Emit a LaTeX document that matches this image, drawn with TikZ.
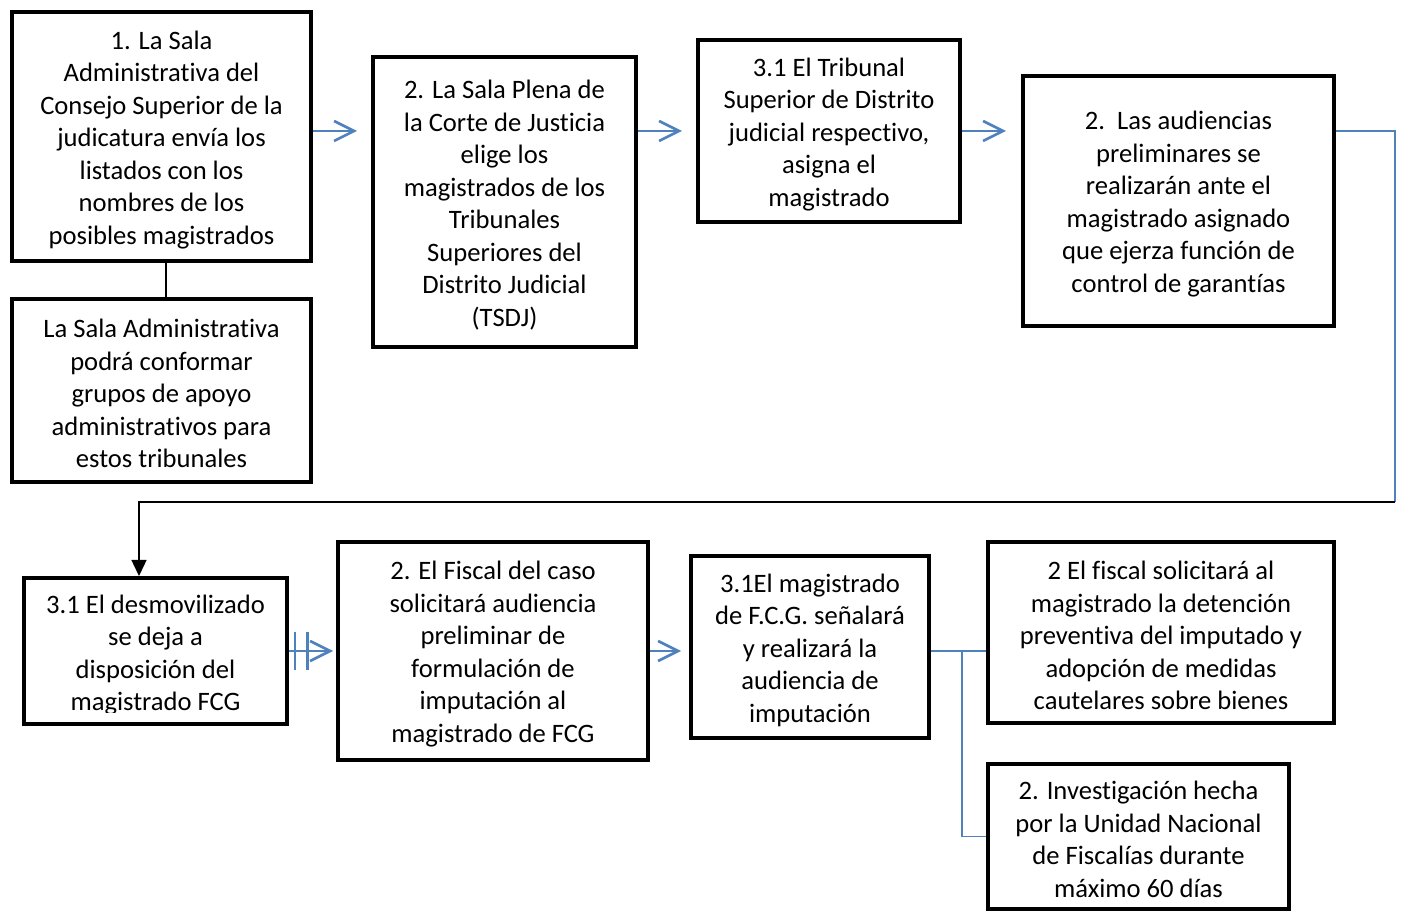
\documentclass[tikz,border=0pt]{standalone}
\usepackage{fontspec}
\setmainfont{Carlito}[Ligatures=NoCommon]
\usetikzlibrary{arrows.meta}
\usetikzlibrary{calc}
\definecolor{azul}{RGB}{79,129,189}
\newcommand{\alto}{\rule{0pt}{12.3pt}}

\begin{document}
\begin{tikzpicture}[x=0.5pt,y=-0.5pt,>=Stealth,
		caja/.style={draw,line width=2pt,align=center,inner sep=0pt,font=\fontsize{13.3}{16.25}\selectfont},
		flecha/.style={azul,line width=1.3pt,-{Straight Barb[length=10pt,width=10pt,line width=1.3pt]}},
		enlace/.style={azul,line width=0.6pt}]
		
		\useasboundingbox (0,0) rectangle (1404,914);
		
		% Upper row
		\node[caja,minimum width=149.5pt,minimum height=124.5pt] (a) at (161.5,136.5) {\alto 1. La Sala\\Administrativa del\\Consejo Superior de la\\judicatura envía los\\listados con los\\nombres de los\\posibles magistrados};
		\node[caja,minimum width=149.5pt,minimum height=91.5pt] (b) at (161.5,390.5) {\alto La Sala Administrativa\\podrá conformar\\grupos de apoyo\\administrativos para\\estos tribunales};
		\node[caja,minimum width=131.5pt,minimum height=145pt] (c) at (504.5,202) {\alto 2. La Sala Plena de\\la Corte de Justicia\\elige los\\magistrados de los\\Tribunales\\Superiores del\\Distrito Judicial\\(TSDJ)};
		\node[caja,minimum width=131pt,minimum height=91pt] (d) at (829,131) {\alto 3.1 El Tribunal\\Superior de Distrito\\judicial respectivo,\\asigna el\\magistrado};
		\node[caja,minimum width=155.5pt,minimum height=125pt] (e) at (1178.5,201) {\alto 2.\ \ Las audiencias\\preliminares se\\realizarán ante el\\magistrado asignado\\que ejerza función de\\control de garantías};
		
		% Lower row
		\begin{scope}
			\clip (22,576) rectangle (289,712);
			\node[caja,draw=none,minimum width=131.5pt,minimum height=73pt] (ftexto) at (155.5,652) {\alto 3.1 El desmovilizado\\se deja a\\disposición del\\magistrado FCG};
		\end{scope}
		\node[caja,minimum width=131.5pt,minimum height=73pt] (f) at (155.5,651) {};
		\node[caja,minimum width=155pt,minimum height=109pt] (g) at (493,651) {\alto 2. El Fiscal del caso\\solicitará audiencia\\preliminar de\\formulación de\\imputación al\\magistrado de FCG};
		\node[caja,minimum width=119pt,minimum height=91pt] (h) at (810,647) {\alto 3.1El magistrado\\de F.C.G. señalará\\y realizará la\\audiencia de\\imputación};
		\node[caja,minimum width=173pt,minimum height=90.5pt] (i) at (1161,632.5) {\alto 2 El fiscal solicitará al\\magistrado la detención\\preventiva del imputado y\\adopción de medidas\\cautelares sobre bienes};
		\node[caja,minimum width=150.5pt,minimum height=72.5pt] (j) at (1138.5,836.5) {\alto 2. Investigación hecha\\por la Unidad Nacional\\de Fiscalías durante\\máximo 60 días};
		
		% Connectors, upper row
		\draw[line width=0.8pt] ([xshift=2.25pt]a.south) -- ([xshift=2.25pt]b.north);
		\draw[flecha,shorten >=7pt] (a.east |- d) -- (c.west |- d);
		\draw[flecha,shorten >=7pt] (c.east |- d) -- (d.west);
		\draw[flecha,shorten >=7.5pt] (d.east) -- (e.west |- d);
		
		% Return line
		\coordinate (esq1) at (1395,502);
		\coordinate (esq2) at (139,502);
		\draw[enlace] (e.east |- d) -| (esq1);
		\draw[line width=0.7pt,-{Triangle[length=8pt,width=7.5pt]}] (esq1) -- (esq2) -- (esq2 |- f.north);
		
		% Connectors, lower row
		\draw[flecha,-{Bar[width=19pt,line width=1.3pt,sep=5pt]Bar[width=19pt,line width=1.3pt,sep=0pt]Straight Barb[length=10pt,width=10pt,line width=1.3pt,sep=0pt]},shorten >=1.5pt] (f) -- (g);
		\draw[flecha,shorten >=4pt] (g.east) -- (h.west |- g);
		\coordinate (rama) at (962,651);
		\draw[enlace] (h.east |- g) -- (i.west |- g);
		\draw[enlace] (rama) |- (j.west);
		
	\end{tikzpicture}
\end{document}
